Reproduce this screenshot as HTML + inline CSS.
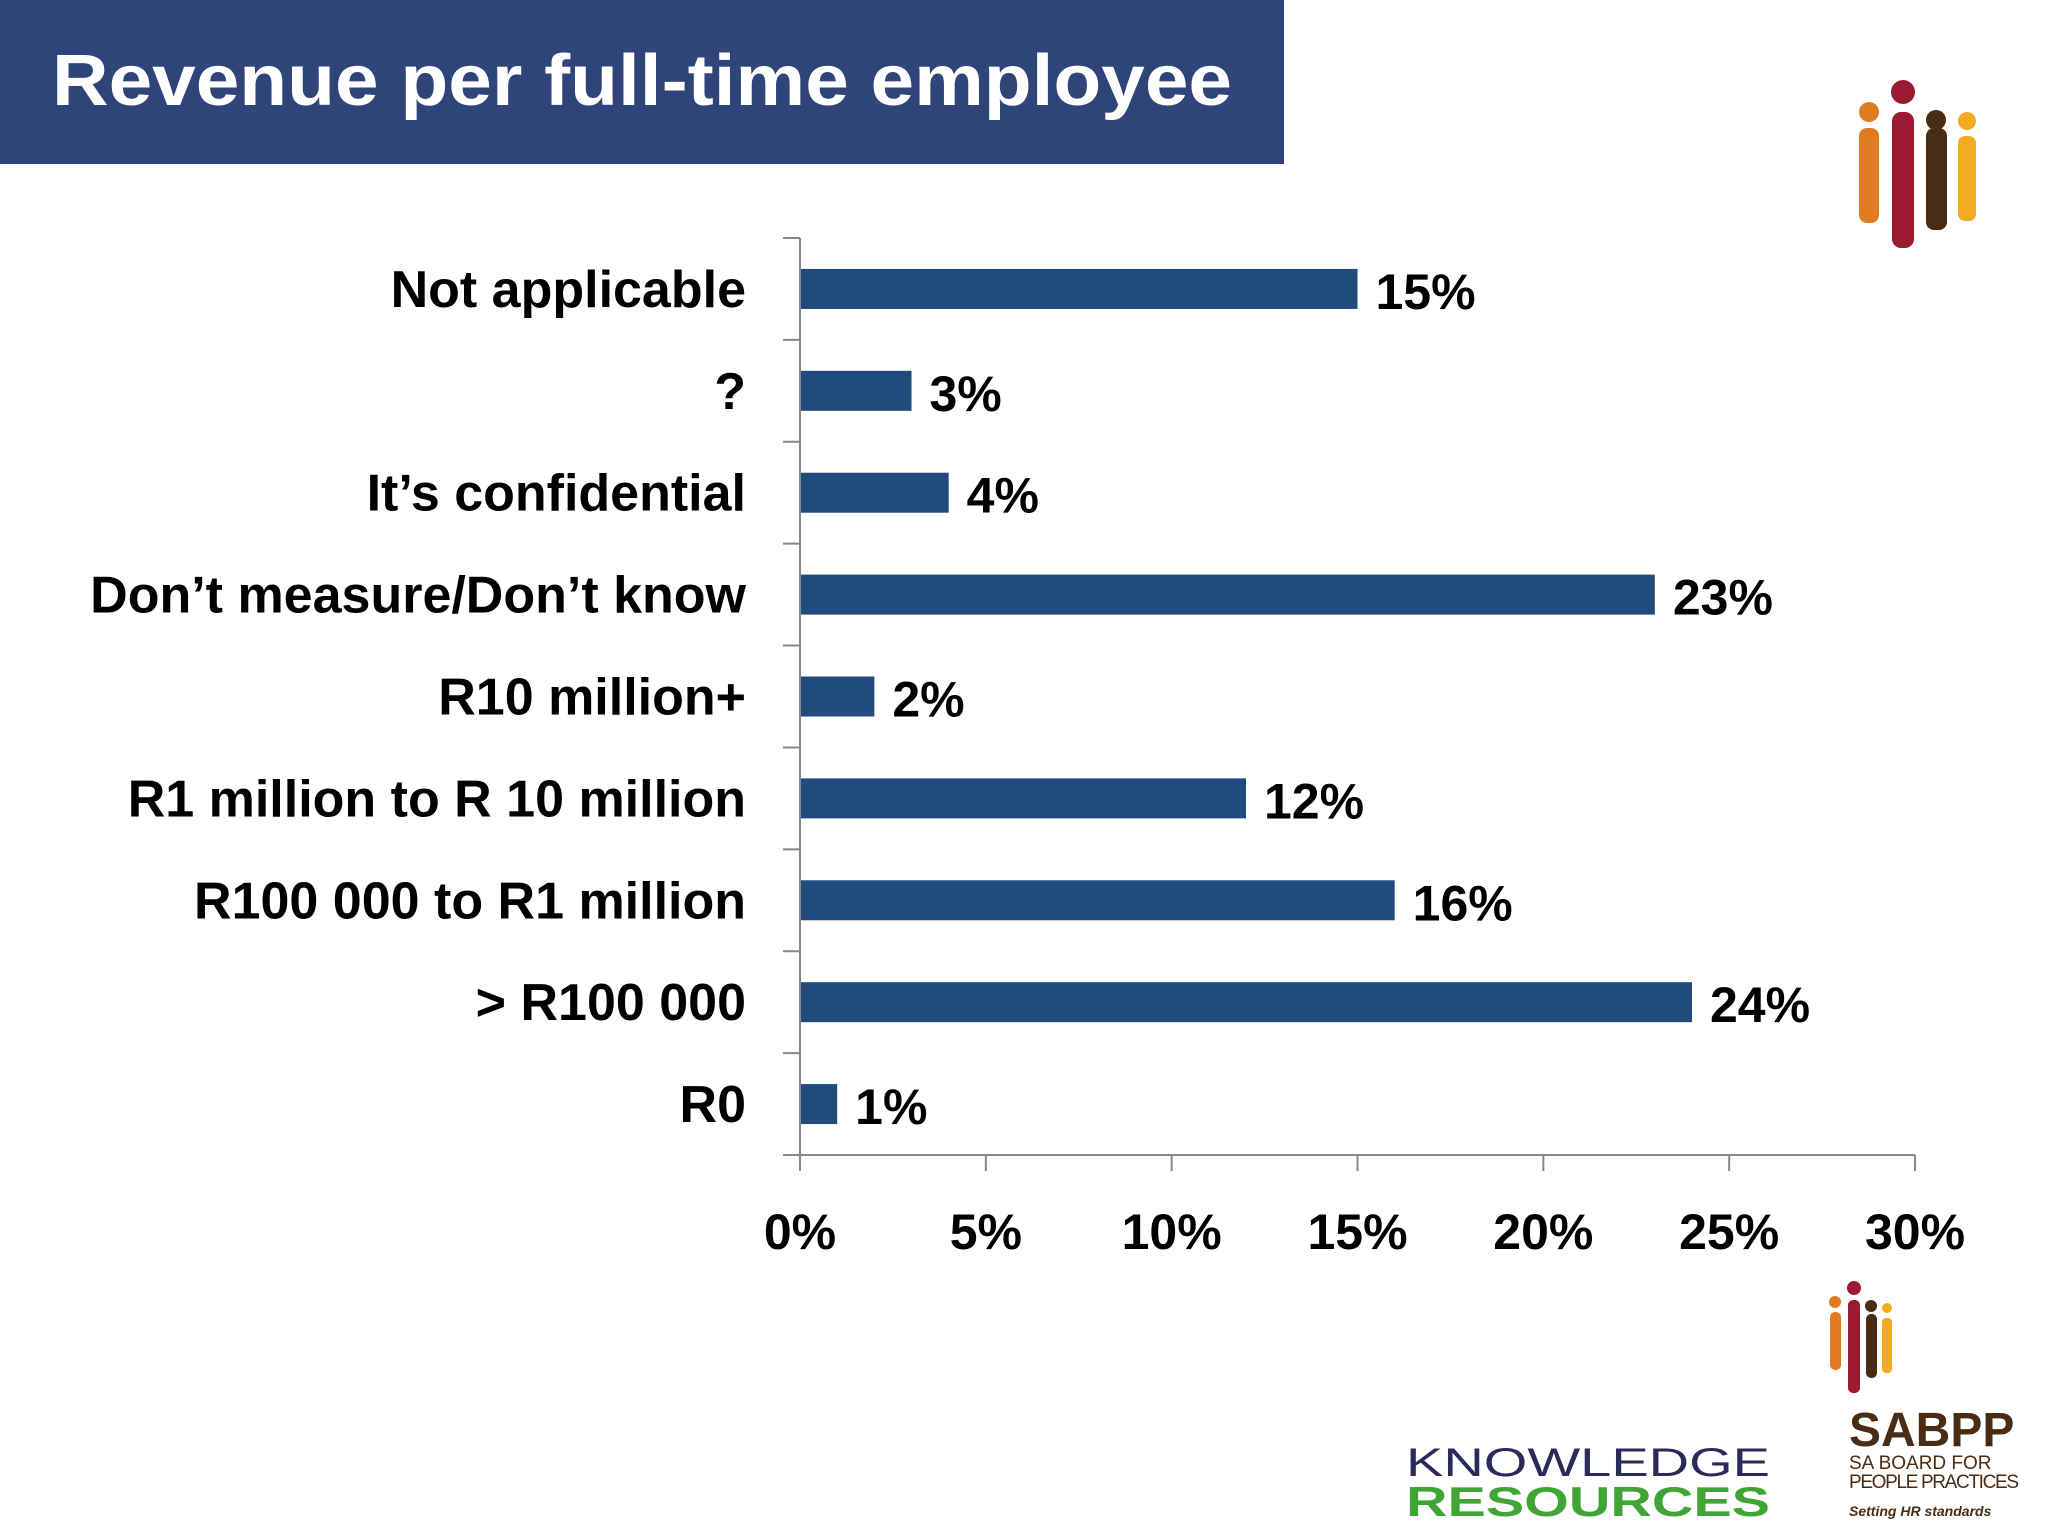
<!DOCTYPE html>
<html><head><meta charset="utf-8"><style>
body{margin:0;background:#fff}
svg{display:block}
text{font-family:"Liberation Sans",sans-serif}
</style></head><body>
<svg width="2048" height="1536" viewBox="0 0 2048 1536">
<rect x="0" y="0" width="1284" height="164" fill="#2f4479"/>
<text x="52" y="105" fill="#fff" font-size="72" font-weight="bold" textLength="1180" lengthAdjust="spacingAndGlyphs">Revenue per full-time employee</text>
<g id="plot"></g>
<g>
<rect x="1859" y="128" width="20" height="95" rx="8" fill="#e07b22"/><circle cx="1869" cy="112" r="10" fill="#e07b22"/>
<rect x="1892" y="112" width="22" height="136" rx="9" fill="#9b1c31"/><circle cx="1903" cy="92" r="12" fill="#9b1c31"/>
<rect x="1926" y="128" width="21" height="102" rx="8" fill="#4a2c14"/><circle cx="1936" cy="120" r="10" fill="#4a2c14"/>
<rect x="1958" y="136" width="18" height="85" rx="7" fill="#f2ac22"/><circle cx="1967" cy="121" r="9" fill="#f2ac22"/>
</g>
<g>
<rect x="1830" y="1312" width="11" height="58" rx="5" fill="#e07b22"/><circle cx="1835" cy="1302" r="6" fill="#e07b22"/>
<rect x="1848" y="1300" width="12" height="93" rx="5" fill="#9b1c31"/><circle cx="1854" cy="1288" r="7" fill="#9b1c31"/>
<rect x="1866" y="1314" width="11" height="64" rx="5" fill="#4a2c14"/><circle cx="1871" cy="1306" r="6" fill="#4a2c14"/>
<rect x="1882" y="1318" width="10" height="55" rx="4" fill="#f2ac22"/><circle cx="1887" cy="1308" r="5" fill="#f2ac22"/>
<text x="1849" y="1446" font-size="48" font-weight="bold" fill="#4a2c14">SABPP</text>
<text x="1849" y="1469" font-size="19" fill="#4a2c14">SA BOARD FOR</text>
<text x="1849" y="1488" font-size="19" fill="#4a2c14" textLength="170">PEOPLE PRACTICES</text>
<text x="1849" y="1516" font-size="14" font-style="italic" font-weight="bold" fill="#4a2c14">Setting HR standards</text>
</g>
<g>
<text x="1406" y="1476" font-size="40" fill="#2b2a5a" textLength="364" lengthAdjust="spacingAndGlyphs">KNOWLEDGE</text>
<text x="1406" y="1516" font-size="42" font-weight="bold" fill="#3fa535" textLength="364" lengthAdjust="spacingAndGlyphs">RESOURCES</text>
</g>
</svg>
<script>
const categories=["Not applicable","?","It’s confidential","Don’t measure/Don’t know","R10 million+","R1 million to R 10 million","R100 000 to R1 million","> R100 000","R0"];
const values=[15,3,4,23,2,12,16,24,1];
const tickValues=[0,5,10,15,20,25,30];
const tickLabels=["0%","5%","10%","15%","20%","25%","30%"];
const NS="http://www.w3.org/2000/svg";
const g=document.getElementById('plot');
const x0=800,x1=1915,yTop=238,yBot=1155;
const xs=v=>x0+(v/30)*(x1-x0);
const band=(yBot-yTop)/categories.length;
const yc=i=>yTop+band*(i+0.5);
function mk(t,a){const e=document.createElementNS(NS,t);for(const k in a)e.setAttribute(k,a[k]);g.appendChild(e);return e;}
let e=mk('line',{x1:x0,y1:yTop,x2:x0,y2:yBot,stroke:'#888','stroke-width':2});


e=mk('line',{x1:x0-17,y1:yBot,x2:x1,y2:yBot,stroke:'#888','stroke-width':2});


for(let i=0;i<=categories.length;i++){const y=yTop+band*i;e=mk('line',{x1:x0-17,y1:y,x2:x0,y2:y,stroke:'#888','stroke-width':2});

}
tickValues.forEach((v,i)=>{e=mk('line',{x1:xs(v),y1:yBot,x2:xs(v),y2:yBot+16,stroke:'#888','stroke-width':2});


const t=mk('text',{x:xs(v),y:1249,'font-size':50,'font-weight':'bold','text-anchor':'middle',fill:'#000'});t.textContent=tickLabels[i];

});
categories.forEach((c,i)=>{const y=yc(i);
const l=mk('text',{x:746,y:y+18,'font-size':52,'font-weight':'bold','text-anchor':'end',fill:'#000'});l.textContent=c;


const b=mk('rect',{x:x0+1,y:y-20,width:xs(values[i])-x0-1,height:40,fill:'#214a7d'});


const v=mk('text',{x:xs(values[i])+18,y:y+20,'font-size':50,'font-weight':'bold',fill:'#000'});v.textContent=values[i]+'%';

});
</script>
</body></html>
